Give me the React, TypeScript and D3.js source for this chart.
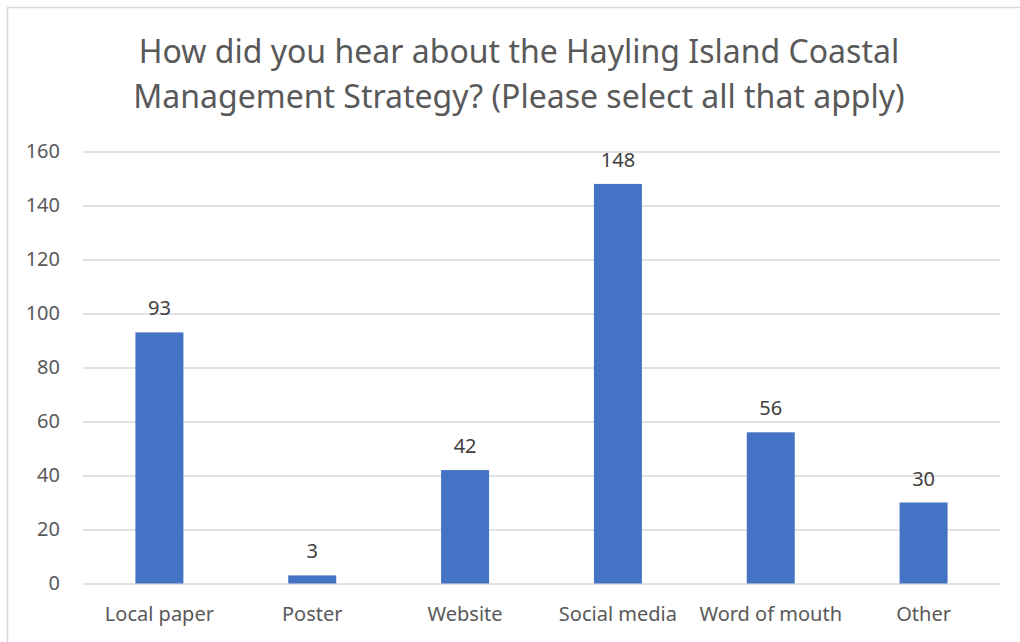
import { useEffect, useRef } from "react";
import { axisLeft, scaleBand, scaleLinear, select } from "d3";

const categories = ["Local paper", "Poster", "Website", "Social media", "Word of mouth", "Other"];
const values = [93, 3, 42, 148, 56, 30];
const yTicks = [0, 20, 40, 60, 80, 100, 120, 140, 160];
const titleLines = [
  "How did you hear about the Hayling Island Coastal",
  "Management Strategy? (Please select all that apply)",
];

const FONT = "'Noto Sans', sans-serif";
const TEXT = "#595959";

export default function App() {
  const ref = useRef<SVGSVGElement>(null);

  useEffect(() => {
    const width = 1020;
    const height = 642;
    const left = 83;
    const right = 1000;
    const top = 151.5;
    const bottom = 583.5;

    const svg = select(ref.current);
    svg.selectAll("*").remove();

    svg.append("rect")
      .attr("x", 7.5)
      .attr("y", 7.5)
      .attr("width", width + 10)
      .attr("height", height + 10)
      .attr("fill", "#fff")
      .attr("stroke", "#d9d9d9")
      .attr("stroke-width", 1.5);

    svg.append("text")
      .attr("x", 519)
      .attr("y", 63)
      .attr("text-anchor", "middle")
      .style("font-family", FONT)
      .style("font-size", "32px")
      .attr("fill", TEXT)
      .selectAll("tspan")
      .data(titleLines)
      .enter()
      .append("tspan")
      .attr("x", 519)
      .attr("dy", (_d, i) => (i === 0 ? 0 : 45))
      .text(d => d);

    const x = scaleBand()
      .domain(categories)
      .range([left, right])
      .paddingInner(0.686)
      .paddingOuter(0.343);

    const y = scaleLinear().domain([0, 160]).range([bottom, top]);

    const yAxis = svg.append("g")
      .attr("transform", `translate(${left},0)`)
      .call(axisLeft(y).tickValues(yTicks).tickSize(-(right - left)).tickPadding(23));
    yAxis.select(".domain").remove();
    yAxis.selectAll(".tick line").attr("stroke", "#d9d9d9").attr("stroke-width", 1.5);
    yAxis.selectAll(".tick text")
      .attr("fill", TEXT)
      .style("font-family", FONT)
      .style("font-size", "20px");

    const data = categories.map((c, i) => ({ c, v: values[i] }));

    svg.selectAll(".bar")
      .data(data)
      .enter()
      .append("rect")
      .attr("class", "bar")
      .attr("x", d => x(d.c) as number)
      .attr("y", d => y(d.v))
      .attr("width", x.bandwidth())
      .attr("height", d => bottom - y(d.v))
      .attr("fill", "#4472c4");

    svg.selectAll(".val")
      .data(data)
      .enter()
      .append("text")
      .attr("class", "val")
      .attr("x", d => (x(d.c) as number) + x.bandwidth() / 2)
      .attr("y", d => y(d.v) - 17)
      .attr("text-anchor", "middle")
      .attr("fill", "#404040")
      .style("font-family", FONT)
      .style("font-size", "20px")
      .text(d => d.v);

    svg.selectAll(".cat")
      .data(categories)
      .enter()
      .append("text")
      .attr("class", "cat")
      .attr("x", d => (x(d) as number) + x.bandwidth() / 2)
      .attr("y", 621)
      .attr("text-anchor", "middle")
      .attr("fill", TEXT)
      .style("font-family", FONT)
      .style("font-size", "20px")
      .text(d => d);
  }, []);

  return (
    <svg
      ref={ref}
      width={1020}
      height={642}
      style={{ position: "absolute", left: 0, top: 0, background: "#fff" }}
    />
  );
}
